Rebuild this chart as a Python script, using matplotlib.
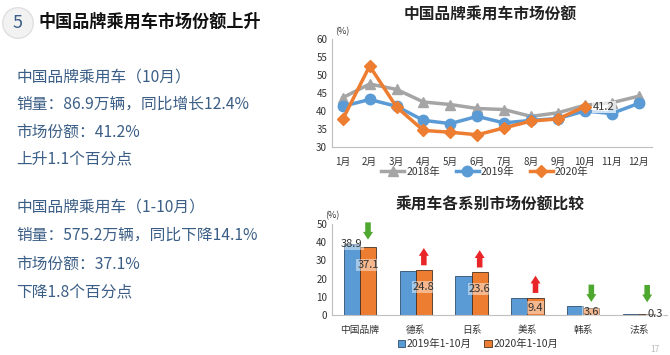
import matplotlib
matplotlib.use('Agg')
import matplotlib.pyplot as plt
import numpy as np

plt.rcParams['font.family'] = ['Noto Sans CJK SC', 'DejaVu Sans']

# monthly share of chinese brands (%)
months = ['1月', '2月', '3月', '4月', '5月', '6月', '7月', '8月', '9月', '10月', '11月', '12月']
share_2018 = [43.7, 47.5, 46.0, 42.5, 41.8, 40.7, 40.4, 38.5, 39.5, 41.6, 42.3, 44.1]
share_2019 = [41.3, 43.2, 41.3, 37.4, 36.5, 38.5, 36.7, 37.4, 37.9, 40.0, 39.3, 42.1]
share_2020 = [37.7, 52.5, 41.1, 34.6, 34.1, 33.4, 35.3, 37.2, 37.8, 41.2]

# share by brand origin, Jan-Oct (%)
groups = ['中国品牌', '德系', '日系', '美系', '韩系', '法系']
ytd_2019 = [38.9, 24.4, 21.6, 9.6, 4.7, 0.7]
ytd_2020 = [37.1, 24.8, 23.6, 9.4, 3.6, 0.3]
trend = ['down', 'up', 'up', 'up', 'down', 'down']

left_block1 = ['中国品牌乘用车（10月）', '销量：86.9万辆，同比增长12.4%', '市场份额：41.2%', '上升1.1个百分点']
left_block2 = ['中国品牌乘用车（1-10月）', '销量：575.2万辆，同比下降14.1%', '市场份额：37.1%', '下降1.8个百分点']

GRAY = '#A5A5A5'
BLUE = '#5B9BD5'
ORANGE = '#ED7D31'
TXT = '#333333'
BODY = '#3B5E86'

fig = plt.figure(figsize=(6.7, 3.55), dpi=100)
W, H = 670, 355

def fx(px):
    return px / W

def fy(py):
    return 1 - py / H

# left side text
fig.text(fx(18), fy(23), '5', fontsize=13, color='#3B5E86', ha='center', va='center',
         bbox=dict(boxstyle='circle,pad=0.35', facecolor='#f2f2f2', edgecolor='#e0e0e0'))
fig.text(fx(38), fy(22), '中国品牌乘用车市场份额上升', fontsize=12.3, fontweight='bold',
         color='#111111', va='center')
for i, line in enumerate(left_block1):
    fig.text(fx(16), fy(77 + i * 27.5), line, fontsize=11.3, color=BODY, va='center')
for i, line in enumerate(left_block2):
    fig.text(fx(16), fy(207 + i * 28.5), line, fontsize=11.3, color=BODY, va='center')
fig.text(fx(655), fy(349), '17', fontsize=6, color='#bbbbbb', ha='center', va='center')

# top chart: monthly line chart
ax1 = fig.add_axes([fx(332), fy(147), fx(652 - 332), (147 - 39) / H])
x = np.arange(len(months))
ax1.plot(x, share_2018, color=GRAY, lw=2.5, marker='^', ms=7.5, label='2018年', zorder=3)
ax1.plot(x, share_2019, color=BLUE, lw=2.5, marker='o', ms=7.5, label='2019年', zorder=4)
ax1.plot(x[:len(share_2020)], share_2020, color=ORANGE, lw=2.5, marker='D', ms=6.5,
         label='2020年', zorder=5)
ax1.annotate('41.2', (x[len(share_2020) - 1], share_2020[-1]), xytext=(6, 0),
             textcoords='offset points', fontsize=8, color=TXT, va='center',
             bbox=dict(boxstyle='square,pad=0.1', facecolor='white', edgecolor='none', alpha=0.7),
             zorder=6)
ax1.set_ylim(30, 60)
ax1.set_yticks(range(30, 61, 5))
ax1.set_xlim(-0.4, 11.5)
ax1.set_xticks(x)
ax1.set_xticklabels(months)
ax1.tick_params(length=0, labelsize=7, colors=TXT)
ax1.tick_params(axis='x', pad=7)
for s in ['top', 'right']:
    ax1.spines[s].set_visible(False)
for s in ['left', 'bottom']:
    ax1.spines[s].set_color('#bfbfbf')
ax1.text(0.01, 1.04, '(%)', transform=ax1.transAxes, fontsize=6.5, color=TXT)
fig.text(fx(490), fy(15), '中国品牌乘用车市场份额', fontsize=11.3, color='#222222',
         ha='center', va='center', fontweight='bold')
fig.legend(*ax1.get_legend_handles_labels(), loc='center', bbox_to_anchor=(fx(485), fy(172)),
           ncol=3, frameon=False, fontsize=7.5, handlelength=2.2, columnspacing=1.5,
           handletextpad=0.2, labelcolor=TXT)

# bottom chart: bar comparison
ax2 = fig.add_axes([fx(332), fy(315), fx(667 - 332), (315 - 224) / H])
xb = np.arange(len(groups))
bw = 0.29
ax2.bar(xb - bw / 2, ytd_2019, bw, color=BLUE, edgecolor='#2f4f6f', lw=0.6, label='2019年1-10月')
ax2.bar(xb + bw / 2, ytd_2020, bw, color=ORANGE, edgecolor='#4a3020', lw=0.6, label='2020年1-10月')
lab_box = dict(boxstyle='square,pad=0.1', facecolor='white', edgecolor='none', alpha=0.45)
ax2.text(xb[0] - bw / 2, ytd_2019[0], f'{ytd_2019[0]:.1f}', fontsize=8, color=TXT,
         ha='center', va='center', bbox=lab_box, zorder=5)
for i, v in enumerate(ytd_2020):
    ypos = v - 9.5 if v > 15 else v * 0.4 + 0.3
    xoff = bw * 0.5 if v < 1 else 0
    ax2.text(xb[i] + bw / 2 + xoff, ypos, f'{v:.1f}', fontsize=8, color=TXT,
             ha='center', va='center', bbox=lab_box, zorder=5)
for i, d in enumerate(trend):
    top = max(ytd_2019[i], ytd_2020[i])
    base = max(top + 2.5, 7)
    if d == 'up':
        start, end, col = base, base + 9.5, '#E8262A'
    else:
        start, end, col = base + 9.5, base, '#4EA72E'
    ax2.annotate('', xy=(xb[i] + bw / 2, end), xytext=(xb[i] + bw / 2, start),
                 arrowprops=dict(arrowstyle='simple,head_width=0.9,head_length=0.7,tail_width=0.5',
                                 mutation_scale=8, color=col, lw=0,
                                 shrinkA=0, shrinkB=0))
ax2.set_ylim(0, 50)
ax2.set_yticks(range(0, 51, 10))
ax2.set_xlim(-0.5, 5.5)
ax2.set_xticks(xb)
ax2.set_xticklabels(groups)
ax2.tick_params(length=0, labelsize=7, colors=TXT)
ax2.tick_params(axis='x', pad=7)
for s in ['top', 'right']:
    ax2.spines[s].set_visible(False)
for s in ['left', 'bottom']:
    ax2.spines[s].set_color('#bfbfbf')
ax2.text(-0.02, 1.06, '(%)', transform=ax2.transAxes, fontsize=6.5, color=TXT)
fig.text(fx(490), fy(205), '乘用车各系别市场份额比较', fontsize=11.3, color='#222222',
         ha='center', va='center', fontweight='bold')
fig.legend(*ax2.get_legend_handles_labels(), loc='center', bbox_to_anchor=(fx(478), fy(344)),
           ncol=2, frameon=False, fontsize=7.5, handlelength=0.7, handleheight=0.7,
           columnspacing=1.2, handletextpad=0.2, labelcolor=TXT)

fig.savefig('out.png', dpi=100, facecolor='white')
